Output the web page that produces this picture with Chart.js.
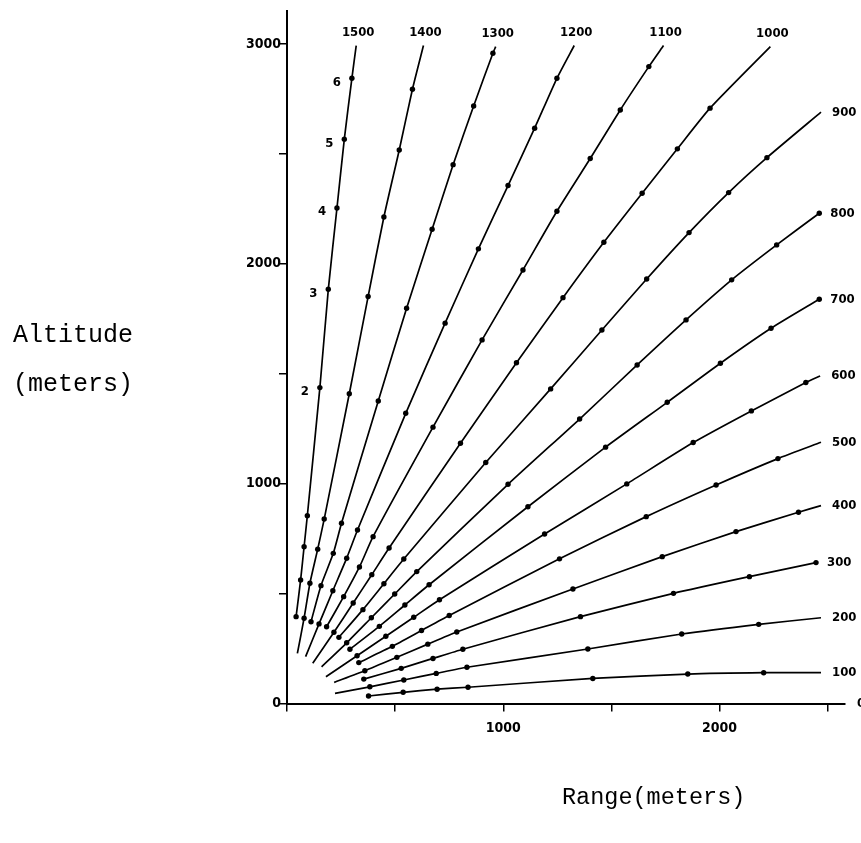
<!DOCTYPE html>
<html>
<head>
<meta charset="utf-8">
<script src="https://cdn.jsdelivr.net/npm/chart.js@4.4.1/dist/chart.umd.min.js"></script>
<style>
    html, body { margin: 0; padding: 0; background: #fff; }
    #wrap { width: 861px; height: 843px; position: relative; }
</style>
</head>
<body>
<div id="wrap"><canvas id="chart" width="861" height="843"></canvas></div>
<script>
// Elevation of each trajectory (mils)
const elevations = [1500, 1400, 1300, 1200, 1100, 1000, 900, 800, 700, 600, 500, 400, 300, 200, 100];
// Time of flight of the dots (s)
const markTimes = [0.4, 0.6, 0.8, 1, 2, 3, 4, 5, 6, 7, 8];

// Axis ticks (meters)
const rangeTicks = [0, 500, 1000, 1500, 2000, 2500];
const rangeLabels = [1000, 2000];
const altitudeTicks = [0, 500, 1000, 1500, 2000, 2500, 3000];
const altitudeLabels = [0, 1000, 2000, 3000];

// Dots along each trajectory: [range, altitude] in meters
const marks1500 = [[42,395],[63,562],[79,713],[94,854],[152,1437],[191,1884],[231,2254],[265,2567],[300,2844]];
const marks1400 = [[79,388],[106,547],[142,702],[172,839],[288,1409],[375,1851],[448,2213],[519,2518],[580,2794]];
const marks1300 = [[111,372],[157,536],[214,683],[252,820],[422,1376],[553,1798],[671,2157],[768,2451],[863,2718],[952,2958]];
const marks1200 = [[148,362],[212,513],[276,661],[326,789],[549,1320],[731,1730],[885,2068],[1022,2356],[1145,2617],[1248,2844]];
const marks1100 = [[183,349],[262,486],[335,621],[398,759],[675,1257],[902,1654],[1091,1972],[1248,2239],[1402,2479],[1541,2700],[1673,2897]];
const marks1000 = [[217,324],[306,457],[392,586],[472,707],[802,1184],[1061,1550],[1276,1846],[1465,2098],[1642,2321],[1805,2523],[1956,2708]];
const marks900 = [[240,301],[351,427],[448,545],[540,657],[919,1096],[1219,1431],[1456,1699],[1663,1931],[1859,2142],[2042,2324],[2219,2483]];
const marks800 = [[276,276],[390,390],[498,498],[600,600],[1022,997],[1353,1294],[1619,1540],[1845,1745],[2056,1927],[2264,2086],[2461,2230]];
const marks700 = [[291,247],[427,351],[545,448],[657,540],[1114,895],[1473,1166],[1758,1370],[2004,1548],[2238,1707],[2461,1839]];
const marks600 = [[324,217],[457,306],[586,392],[705,472],[1191,771],[1571,999],[1878,1187],[2147,1331],[2399,1460]];
const marks500 = [[332,186],[487,260],[622,332],[750,400],[1260,658],[1661,850],[1984,994],[2270,1114]];
const marks400 = [[360,149],[508,210],[651,270],[785,325],[1322,521],[1735,668],[2076,782],[2365,870]];
const marks300 = [[355,111],[528,160],[675,205],[813,247],[1357,395],[1787,501],[2138,577],[2446,641]];
const marks200 = [[383,76],[540,107],[690,137],[832,165],[1391,248],[1825,316],[2181,360]];
const marks100 = [[377,34],[537,51],[694,65],[837,74],[1414,114],[1853,134],[2204,140]];

const allMarks = [marks1500, marks1400, marks1300, marks1200, marks1100, marks1000, marks900,
                  marks800, marks700, marks600, marks500, marks400, marks300, marks200, marks100];

// where a drawn line begins / ends beyond its dots (null = on a dot)
const lineStart = [null, [48,228], null, [86,213], null, [119,183], null, [160,167],
                   null, [180,122], null, [218,96], null, [222,46], null];
const lineEnd = [[320,2993], [631,2993], [965,2988], [1328,2993], [1741,2993], [2235,2988], [2469,2690], null,
                 null, [2465,1490], [2469,1188], [2469,900], null, [2469,390], [2469,140]];

// flight times written beside the 1500 mil trajectory
const labelledTimes = [2, 3, 4, 5, 6];

const toPt = p => ({ x: p[0], y: p[1] });

const paths = allMarks.map((m, i) => {
    let pts = m.map(toPt);
    if (lineStart[i]) pts.unshift(toPt(lineStart[i]));
    if (lineEnd[i]) pts.push(toPt(lineEnd[i]));
    return pts;
});

const datasets = [];
elevations.forEach((el, i) => {
    datasets.push({
        label: el + ' mils',
        data: paths[i],
        showLine: true,
        borderColor: '#000',
        borderWidth: 1.7,
        pointRadius: 0,
        tension: 0.2,
        fill: false
    });
    datasets.push({
        label: el + ' marks',
        data: allMarks[i].map(toPt),
        showLine: false,
        pointRadius: 2.7,
        pointBackgroundColor: '#000',
        pointBorderWidth: 0
    });
});

const tickFont = { family: '"DejaVu Sans Condensed", "DejaVu Sans", sans-serif', size: 14, weight: 'bold' };

const curveLabels = {
    id: 'curveLabels',
    afterDatasetsDraw(chart) {
        const ctx = chart.ctx;
        const xs = chart.scales.x, ys = chart.scales.y;
        ctx.save();
        ctx.fillStyle = '#000';
        ctx.font = 'bold 13px "DejaVu Sans Condensed", "DejaVu Sans", sans-serif';

        elevations.forEach((el, i) => {
            const last = paths[i][paths[i].length - 1];
            const px = xs.getPixelForValue(last.x);
            const py = ys.getPixelForValue(last.y);
            if (last.y > 2900) {
                ctx.textAlign = 'center';
                ctx.textBaseline = 'alphabetic';
                ctx.fillText(String(el), px + 2, py - 10);
            } else {
                ctx.textAlign = 'left';
                ctx.textBaseline = 'middle';
                ctx.fillText(String(el), px + 11, py);
            }
        });

        // 0 mil line lies on the range axis
        ctx.textAlign = 'left';
        ctx.textBaseline = 'middle';
        ctx.fillText('0', xs.getPixelForValue(xs.max) + 12, ys.getPixelForValue(0));

        // time marks on the steepest trajectory
        ctx.textAlign = 'center';
        labelledTimes.forEach(t => {
            const p = marks1500[markTimes.indexOf(t)];
            ctx.fillText(String(t), xs.getPixelForValue(p[0]) - 15, ys.getPixelForValue(p[1]) + 4);
        });

        // axis titles
        const area = chart.chartArea;
        ctx.font = '25px "Liberation Mono", "DejaVu Sans Mono", monospace';
        ctx.textAlign = 'left';
        ctx.fillText('Altitude', 13, 335);
        ctx.fillText('(meters)', 13, 384);
        ctx.font = '23.5px "Liberation Mono", "DejaVu Sans Mono", monospace';
        ctx.fillText('Range(meters)', area.left + 275, area.bottom + 94);
        ctx.restore();
    }
};

const axisGrid = { drawOnChartArea: false, drawTicks: true, tickLength: 8, color: '#000', lineWidth: 1.5 };

new Chart(document.getElementById('chart'), {
    type: 'scatter',
    data: { datasets: datasets },
    options: {
        responsive: false,
        animation: false,
        layout: { padding: { left: 0, right: 16, top: 11, bottom: 0 } },
        plugins: {
            legend: { display: false },
            tooltip: { enabled: false }
        },
        scales: {
            x: {
                type: 'linear',
                bounds: 'data',
                min: 0,
                max: 2580,
                border: { color: '#000', width: 2 },
                grid: axisGrid,
                afterBuildTicks(scale) { scale.ticks = rangeTicks.map(v => ({ value: v })); },
                ticks: {
                    autoSkip: false,
                    maxRotation: 0,
                    padding: 8,
                    color: '#000',
                    font: tickFont,
                    callback: v => rangeLabels.includes(v) ? String(v) : ''
                },
                afterFit(scale) { scale.height = 139.5; }
            },
            y: {
                type: 'linear',
                bounds: 'data',
                min: 0,
                max: 3150,
                border: { color: '#000', width: 2 },
                grid: axisGrid,
                afterBuildTicks(scale) { scale.ticks = altitudeTicks.map(v => ({ value: v })); },
                ticks: {
                    autoSkip: false,
                    padding: -2,
                    color: '#000',
                    font: tickFont,
                    callback: v => altitudeLabels.includes(v) ? String(v) : ''
                },
                afterFit(scale) { scale.width = 287; }
            }
        }
    },
    plugins: [curveLabels]
});
</script>
</body>
</html>
